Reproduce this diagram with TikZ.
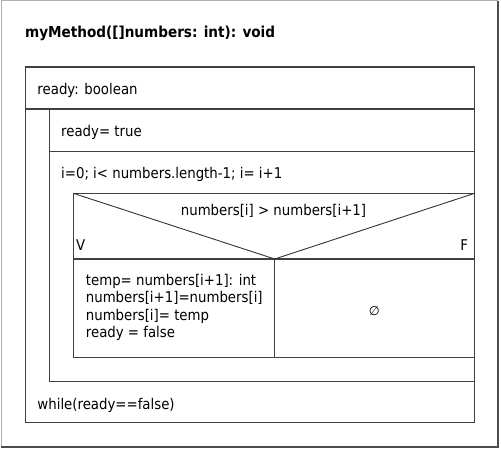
\documentclass[tikz,border=0pt]{standalone}
\usepackage{fontspec}
\setmainfont{DejaVu Sans Condensed}
\newfontfamily\symfont{DejaVu Sans}
\begin{document}
\begin{tikzpicture}[x=1pt,y=-1pt,
  box/.style={draw=black!75,line width=1.5pt},
  diag/.style={draw=black!80,line width=0.9pt},
  lbl/.style={anchor=base west,inner sep=0pt,font=\fontsize{14.8}{17.6}\selectfont}]
\useasboundingbox (0,0) rectangle (501,448);
% 外框
\draw[gray!60,line width=1pt] (1,447) -- (1,0.5) -- (498,0.5);
\draw[black!70,line width=1.6pt] (498,0.5) -- (498,447.2) -- (1,447.2);
\node[lbl,font=\fontsize{15.1}{17.6}\selectfont\bfseries] (title) at (25,37.7) {myMethod([]numbers: int): void};
% 结构块
\draw[box] (25.5,67) rectangle (474.5,422.5);
\draw[box] (25.5,109) -- (474.5,109);
\draw[box] (49.5,109) -- (49.5,381.7) -- (474.5,381.7);
\draw[box] (49.5,151.7) -- (474.5,151.7);
\draw[box] (73.3,193.3) -- (474.5,193.3);
\draw[box] (73.3,193.3) -- (73.3,357.7) -- (474.5,357.7);
\draw[box] (73.3,259) -- (474.5,259);
\draw[box] (274.7,259) -- (274.7,357.7);
\draw[diag] (73.3,193.3) -- (274.7,259) -- (474.5,193.3);
% 文字
\node[lbl] (decl) at (37.3,94.5) {ready: boolean};
\node[lbl] (init) at (61,136) {ready= true};
\node[lbl] (loophead) at (61,178.3) {i=0; i< numbers.length-1; i= i+1};
\node[lbl,anchor=base] (cond) at (273.5,215) {numbers[i] > numbers[i+1]};
\node[lbl] (yes) at (76,250.7) {V};
\node[lbl,anchor=base east] (no) at (468.3,250.7) {F};
\foreach \t [count=\k] in {temp= numbers[i+1]: int,numbers[i+1]=numbers[i],numbers[i]= temp,ready = false}
  \node[lbl] (swap\k) at (85.7,{285+17.6*(\k-1)}) {\t};
\node[inner sep=0pt,font=\symfont\fontsize{12.5}{14}\selectfont] (empty) at (374.3,310.7) {∅};
\node[lbl] (until) at (37.3,409.3) {while(ready==false)};
\end{tikzpicture}
\end{document}
